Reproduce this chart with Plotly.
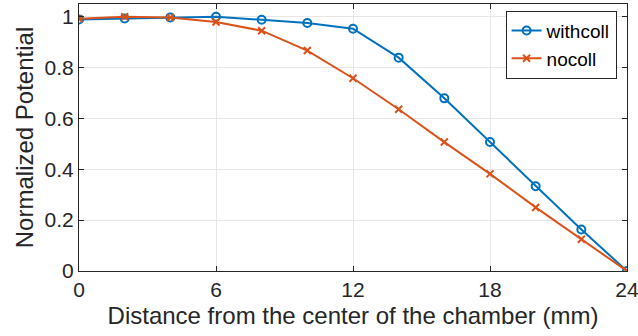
import plotly.graph_objects as go

# Distance from chamber centre (mm)
distance = [0, 2, 4, 6, 8, 10, 12, 14, 16, 18, 20, 22, 24]
# Normalized potential profiles
withcoll = [0.989, 0.993, 0.997, 1.0, 0.988, 0.975, 0.953, 0.839, 0.679, 0.507, 0.333, 0.163, 0.0]
nocoll = [0.992, 1.0, 0.997, 0.979, 0.945, 0.867, 0.758, 0.636, 0.507, 0.382, 0.250, 0.125, 0.0]

x_ticks = [0, 6, 12, 18, 24]
y_ticks = [0, 0.2, 0.4, 0.6, 0.8, 1]
y_tick_labels = ["0", "0.2", "0.4", "0.6", "0.8", "1"]

BLUE = "#0072BD"
ORANGE = "#D95319"
AXIS = "#262626"
FONT = "Liberation Sans, Arial, Helvetica, sans-serif"

fig = go.Figure()
fig.add_trace(go.Scatter(
    x=distance, y=withcoll, name="withcoll", mode="lines+markers",
    line=dict(color=BLUE, width=2),
    marker=dict(symbol="circle-open", size=8, color=BLUE, line=dict(width=2)),
))
fig.add_trace(go.Scatter(
    x=distance, y=nocoll, name="nocoll", mode="lines+markers",
    line=dict(color=ORANGE, width=2),
    marker=dict(symbol="x-thin-open", size=7, color=ORANGE, line=dict(width=2, color=ORANGE)),
))

axis_common = dict(
    showline=True, linecolor=AXIS, linewidth=1, mirror="allticks",
    ticks="inside", ticklen=5, tickcolor=AXIS, tickwidth=1,
    showgrid=True, gridcolor="#E6E6E6", gridwidth=1, zeroline=False,
    tickfont=dict(family=FONT, size=21, color=AXIS),
    ticklabeloverflow="allow", automargin=False,
)

fig.update_layout(
    width=638, height=336,
    margin=dict(l=79, r=11, t=4, b=65),
    paper_bgcolor="white", plot_bgcolor="white",
    font=dict(family=FONT, color=AXIS),
    showlegend=True,
    legend=dict(
        x=0.981, y=0.975, xanchor="right", yanchor="top",
        bgcolor="white", bordercolor=AXIS, borderwidth=1,
        font=dict(family=FONT, size=19, color="black"),
        itemwidth=30, tracegroupgap=0,
    ),
    xaxis=dict(
        range=[0, 24], tickvals=x_ticks,
        title=dict(text="Distance from the center of the chamber (mm)",
                   font=dict(family=FONT, size=24, color=AXIS), standoff=6),
        **axis_common,
    ),
    yaxis=dict(
        range=[0, 1.05], tickvals=y_ticks, ticktext=y_tick_labels,
        title=dict(text="Normalized Potential",
                   font=dict(family=FONT, size=24, color=AXIS), standoff=4),
        **axis_common,
    ),
)

fig.write_html("out.html")
